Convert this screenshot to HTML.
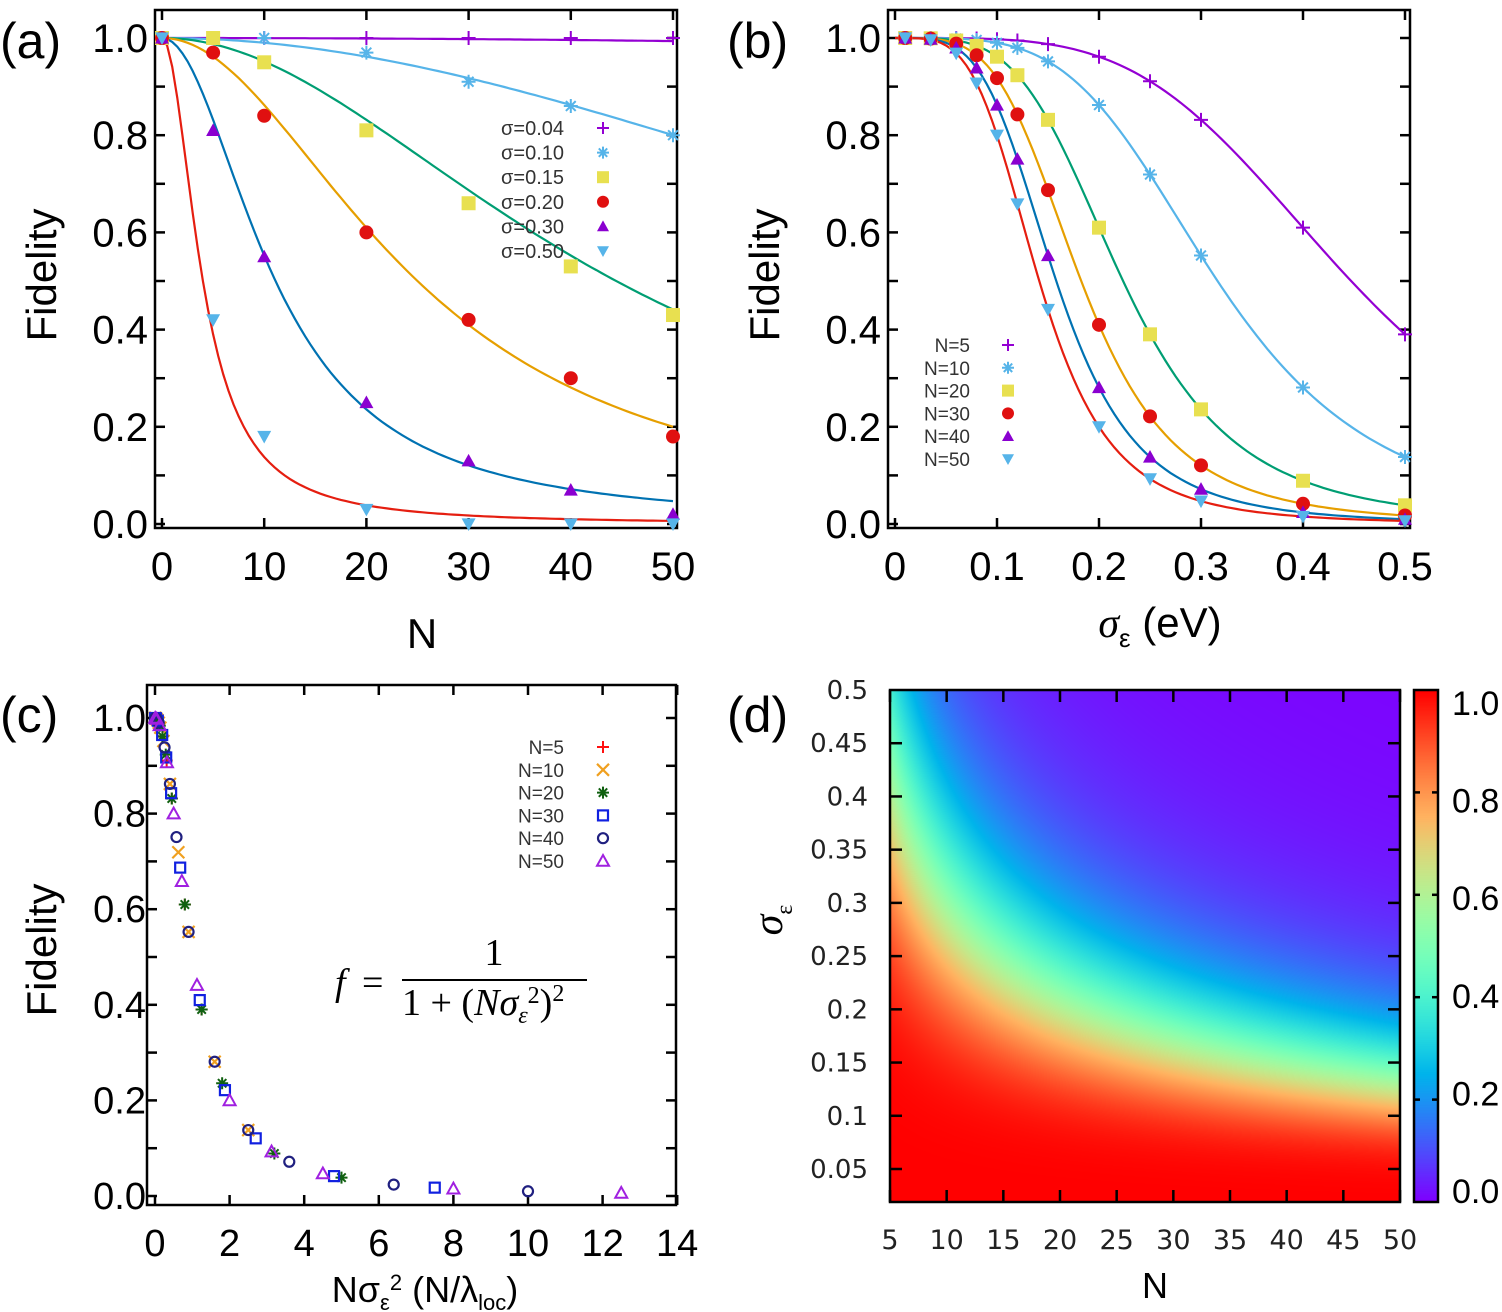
<!DOCTYPE html>
<html><head><meta charset="utf-8">
<style>
html,body{margin:0;padding:0;background:#fff;}
#wrap{position:relative;width:1502px;height:1312px;overflow:hidden;}
svg{position:absolute;left:0;top:0;}
canvas{position:absolute;}
</style></head>
<body><div id="wrap">
<canvas id="hm" width="510" height="512" style="left:890px;top:690px;"></canvas>
<canvas id="cb" width="24" height="512" style="left:1414px;top:690px;"></canvas>
<svg id="s" width="1502" height="1312" xmlns="http://www.w3.org/2000/svg" font-family="Liberation Sans, sans-serif">
<g font-size="50"><text x="0" y="58">(a)</text><text x="727" y="58">(b)</text><text x="0" y="732">(c)</text><text x="727" y="732">(d)</text></g>
<text transform="translate(56,275) rotate(-90)" font-size="42" text-anchor="middle">Fidelity</text>
<text transform="translate(779,275) rotate(-90)" font-size="42" text-anchor="middle">Fidelity</text>
<text transform="translate(56,950) rotate(-90)" font-size="42" text-anchor="middle">Fidelity</text>
<text x="422" y="648" font-size="42" text-anchor="middle">N</text>
<text x="1160" y="637" font-size="42" text-anchor="middle"><tspan font-family="Liberation Serif, serif" font-style="italic">σ</tspan><tspan font-size="26" dy="10">ε</tspan><tspan dy="-10"> (eV)</tspan></text>
<text x="425" y="1302" font-size="36" text-anchor="middle">Nσ<tspan font-size="22" dy="8">ε</tspan><tspan font-size="22" dy="-20">2</tspan><tspan dy="12"> (N/λ</tspan><tspan font-size="22" dy="8">loc</tspan><tspan dy="-8">)</tspan></text>
<text x="1155" y="1298" font-size="36" text-anchor="middle">N</text>
<text transform="translate(782,920) rotate(-90)" font-size="42" text-anchor="middle" font-family="Liberation Serif, serif" font-style="italic">σ<tspan font-size="24" font-style="normal" dy="10">ε</tspan></text>
<g font-family="Liberation Serif, serif" font-size="38">
<text x="335" y="995" font-style="italic">f</text><text x="362" y="995">=</text>
<line x1="402" y1="980" x2="587" y2="980" stroke="#000" stroke-width="2"/>
<text x="494" y="965" text-anchor="middle">1</text>
<text x="402" y="1015">1 + (<tspan font-style="italic">Nσ</tspan><tspan font-style="italic" font-size="24" dy="8">ε</tspan><tspan font-size="24" dy="-20">2</tspan><tspan dy="12">)</tspan><tspan font-size="24" dy="-14">2</tspan></text>
</g>
<g id="g"></g>
</svg>
</div>
<script>
var NS="http://www.w3.org/2000/svg",G=document.getElementById('g');
function el(t,a,txt){var e=document.createElementNS(NS,t);for(var k in a)e.setAttribute(k,a[k]);if(txt!==undefined)e.textContent=txt;G.appendChild(e);return e;}
function f(x){return 1/(1+x*x);}
function mk(type,x,y,c,r){r=r||7;
 if(type=='plus'){el('path',{d:'M'+(x-r)+' '+y+'h'+2*r+'M'+x+' '+(y-r)+'v'+2*r,stroke:c,'stroke-width':2});}
 else if(type=='x'){el('path',{d:'M'+(x-r)+' '+(y-r)+'l'+2*r+' '+2*r+'M'+(x-r)+' '+(y+r)+'l'+2*r+' '+(-2*r),stroke:c,'stroke-width':2.2});}
 else if(type=='star'){el('path',{d:'M'+(x-r)+' '+y+'h'+2*r+'M'+x+' '+(y-r)+'v'+2*r+'M'+(x-r*.7)+' '+(y-r*.7)+'l'+1.4*r+' '+1.4*r+'M'+(x-r*.7)+' '+(y+r*.7)+'l'+1.4*r+' '+(-1.4*r),stroke:c,'stroke-width':2});}
 else if(type=='sq'){el('rect',{x:x-r,y:y-r,width:2*r,height:2*r,fill:c});}
 else if(type=='osq'){el('rect',{x:x-r+1,y:y-r+1,width:2*r-2,height:2*r-2,fill:'none',stroke:c,'stroke-width':2.2});}
 else if(type=='ci'){el('circle',{cx:x,cy:y,r:r,fill:c});}
 else if(type=='oci'){el('circle',{cx:x,cy:y,r:r-1,fill:'none',stroke:c,'stroke-width':2.2});}
 else if(type=='tu'){el('path',{d:'M'+x+' '+(y-r)+'L'+(x+r)+' '+(y+r*.8)+'L'+(x-r)+' '+(y+r*.8)+'Z',fill:c});}
 else if(type=='otu'){el('path',{d:'M'+x+' '+(y-r)+'L'+(x+r)+' '+(y+r*.8)+'L'+(x-r)+' '+(y+r*.8)+'Z',fill:'none',stroke:c,'stroke-width':2});}
 else if(type=='td'){el('path',{d:'M'+x+' '+(y+r)+'L'+(x+r)+' '+(y-r*.8)+'L'+(x-r)+' '+(y-r*.8)+'Z',fill:c});}
}
function frame(x0,y0,x1,y1){el('rect',{x:x0,y:y0,width:x1-x0,height:y1-y0,fill:'none',stroke:'#000','stroke-width':2.5});}
function tk(x1,y1,x2,y2){el('line',{x1:x1,y1:y1,x2:x2,y2:y2,stroke:'#000','stroke-width':2.5});}
var cols=['#9400d3','#56b4e9','#009e73','#e69f00','#0072b2','#e51e10'];
var AX=function(n){return 162+n*10.22},AY=function(v){return 524-v*486};
frame(155,10,677,528);
for(var i=0;i<=10;i++){var y=AY(i/10);tk(155,y,165,y);tk(667,y,677,y);}
for(var i=0;i<=5;i++){var x=AX(i*10);tk(x,528,x,518);tk(x,10,x,20);
 el('text',{x:x,y:580,'font-size':40,'text-anchor':'middle'},''+i*10);}
for(var i=0;i<=5;i++){el('text',{x:148,y:AY(i/5)+14,'font-size':40,'text-anchor':'end'},(i/5).toFixed(1));}
var sig=[0.04,0.10,0.15,0.20,0.30,0.50];
sig.forEach(function(s,k){var d='';for(var n=0;n<=50;n+=0.5){d+=(n?'L':'M')+AX(n).toFixed(1)+' '+AY(f(n*s*s)).toFixed(1);}
 el('path',{d:d,fill:'none',stroke:cols[k],'stroke-width':2.2});});
var aN=[0,5,10,20,30,40,50];
var aP=[[1,1,1,1,1,1,1],[1,1,1,.97,.91,.86,.80],[1,1,.95,.81,.66,.53,.43],[1,.97,.84,.60,.42,.30,.18],[1,.81,.55,.25,.13,.07,.02],[1,.42,.18,.03,0,0,0]];
var aM=['plus','star','sq','ci','tu','td'],aC=['#9400d3','#56b4e9','#e8e050','#e01010','#8a00d0','#56b4e9'];
aP.forEach(function(r,k){r.forEach(function(v,j){mk(aM[k],AX(aN[j]),AY(v),aC[k]);});});
sig.forEach(function(s,k){var y=128+k*24.6;el('text',{x:564,y:y+7,'font-size':20,'text-anchor':'end',fill:'#333'},'σ='+s.toFixed(2));mk(aM[k],603,y,aC[k],6);});
var BX=function(s){return 895+s*1020};
frame(888,10,1410,528);
for(var i=0;i<=10;i++){var y=AY(i/10);tk(888,y,898,y);tk(1400,y,1410,y);}
for(var i=0;i<=5;i++){var x=BX(i/10);tk(x,528,x,518);tk(x,10,x,20);
 el('text',{x:x,y:580,'font-size':40,'text-anchor':'middle'},i?(i/10).toFixed(1):'0');}
for(var i=0;i<=5;i++){el('text',{x:881,y:AY(i/5)+14,'font-size':40,'text-anchor':'end'},(i/5).toFixed(1));}
var NN=[5,10,20,30,40,50];
NN.forEach(function(N,k){var d='';for(var s=0;s<=0.5001;s+=0.005){d+=(s?'L':'M')+BX(s).toFixed(1)+' '+AY(f(N*s*s)).toFixed(1);}
 el('path',{d:d,fill:'none',stroke:cols[k],'stroke-width':2.2});});
var bS=[0.01,0.035,0.06,0.08,0.1,0.12,0.15,0.2,0.25,0.3,0.4,0.5];
var bC=['#9400d3','#56b4e9','#e8e050','#e01010','#8a00d0','#56b4e9'];
NN.forEach(function(N,k){bS.forEach(function(s){mk(aM[k],BX(s),AY(f(N*s*s)),bC[k]);});});
NN.forEach(function(N,k){var y=345+k*22.8;el('text',{x:970,y:y+7,'font-size':19,'text-anchor':'end',fill:'#333'},'N='+N);mk(aM[k],1008,y,bC[k],6);});
var CX=function(x){return 155+x*37.3},CY=function(v){return 1196-v*478};
frame(147,685,676,1205);
for(var i=0;i<=10;i++){var y=CY(i/10);tk(147,y,157,y);tk(666,y,676,y);}
for(var i=0;i<=7;i++){var x=CX(i*2);tk(x,1205,x,1195);tk(x,685,x,695);
 el('text',{x:x,y:1256,'font-size':38,'text-anchor':'middle'},''+i*2);}
for(var i=0;i<=5;i++){el('text',{x:146,y:CY(i/5)+13,'font-size':38,'text-anchor':'end'},(i/5).toFixed(1));}
var cM=['plus','x','star','osq','oci','otu'],cC=['#ff1010','#f0a020','#106010','#1020e0','#202080','#a020e0'];
var cS=[0.01,0.03,0.05,0.08,0.1,0.12,0.15,0.2,0.25,0.3,0.4,0.5];
NN.forEach(function(N,k){cS.forEach(function(s){var x=N*s*s;if(x<=13)mk(cM[k],CX(x),CY(f(x)),cC[k],6);});});
NN.forEach(function(N,k){var y=747+k*22.8;el('text',{x:564,y:y+7,'font-size':19,'text-anchor':'end',fill:'#333'},'N='+N);mk(cM[k],603,y,cC[k],6);});
function rb(t){var r=Math.abs(2*t-0.5),g=Math.sin(Math.PI*t),b=Math.cos(Math.PI*t/2);r=Math.min(1,r);return [r*255|0,g*255|0,b*255|0];}
var DX=function(n){return 890+(n-5)/45*510},DY=function(s){return 1202-(s-0.019)/0.481*512};
(function(){var c=document.getElementById('hm').getContext('2d'),im=c.createImageData(510,512);
for(var j=0;j<512;j++){var s=0.019+(512-j)/512*0.481;for(var i=0;i<510;i++){var N=5+i/510*45,v=f(N*s*s),p=rb(v),o=(j*510+i)*4;im.data[o]=p[0];im.data[o+1]=p[1];im.data[o+2]=p[2];im.data[o+3]=255;}}
c.putImageData(im,0,0);
var c2=document.getElementById('cb').getContext('2d'),im2=c2.createImageData(24,512);
for(var j=0;j<512;j++){var p=rb(1-j/511);for(var i=0;i<24;i++){var o=(j*24+i)*4;im2.data[o]=p[0];im2.data[o+1]=p[1];im2.data[o+2]=p[2];im2.data[o+3]=255;}}
c2.putImageData(im2,0,0);})();
frame(890,690,1400,1202);frame(1414,690,1438,1202);
for(var n=5;n<=50;n+=5){var x=DX(n);tk(x,1202,x,1190);tk(x,690,x,702);
 el('text',{x:x,y:1249,'font-size':27,'text-anchor':'middle','font-family':'DejaVu Sans, sans-serif',fill:'#222'},''+n);}
for(var k=1;k<=10;k++){var s=k*0.05,y=DY(s);if(k<10){tk(890,y,902,y);tk(1388,y,1400,y);}
 el('text',{x:868,y:y+9,'font-size':26,'text-anchor':'end','font-family':'DejaVu Sans, sans-serif',fill:'#222'},k==10?'0.5':(''+(+s.toFixed(2))));}
for(var i=0;i<=5;i++){var y=1190-i*97.6;var yt=1202-i*102.4;if(i>0&&i<5){tk(1414,yt,1420,yt);tk(1432,yt,1438,yt);}
 el('text',{x:1452,y:y+13,'font-size':34},(i/5).toFixed(1));}
</script>
</body></html>
